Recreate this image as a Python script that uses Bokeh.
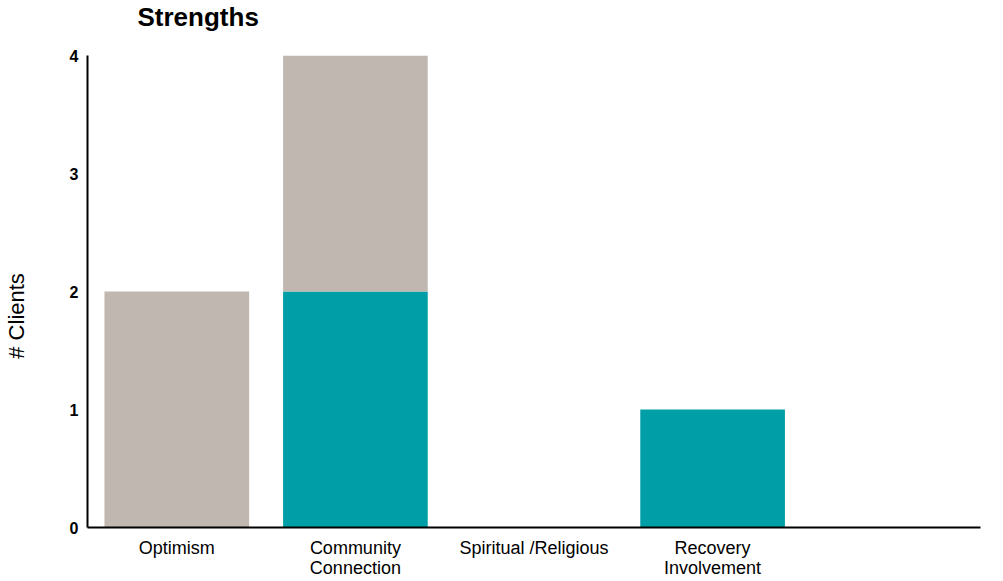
from bokeh.plotting import figure
from bokeh.models import FixedTicker, Range1d, ColumnDataSource, Title
from bokeh.embed import file_html
from bokeh.resources import INLINE

title_text = "Strengths"
categories = ["Optimism", "Community\nConnection", "Spiritual /Religious", "Recovery\nInvolvement", ""]
teal_values = [0, 2, 0, 1, 0]
gray_values = [2, 2, 0, 0, 0]
y_ticks = [0, 1, 2, 3, 4]

xs = list(range(1, len(categories) + 1))
src = ColumnDataSource(dict(x=xs, teal=teal_values, gray=gray_values))

p = figure(width=995, height=580, output_backend="svg", toolbar_location=None,
           x_range=Range1d(0.5, len(categories) + 0.5), y_range=Range1d(0, 4),
           min_border_left=87, min_border_right=15, min_border_top=55, min_border_bottom=53)

p.vbar_stack(["teal", "gray"], x="x", width=0.81, source=src,
             color=["#009FA7", "#BFB7B0"], line_color=None)

# spacer panel between the title and the frame
p.add_layout(Title(text="\u00a0", text_font_size="18px", standoff=0), "above")

p.title.text = title_text
p.title.text_font = "Liberation Sans"
p.title.text_font_size = "26px"
p.title.text_font_style = "bold"
p.title.text_color = "black"
p.title.align = "left"
p.title.offset = 50
p.title.vertical_align = "top"
p.title.standoff = 0

p.xgrid.visible = False
p.ygrid.visible = False
p.outline_line_color = None

p.xaxis.ticker = FixedTicker(ticks=xs)
p.xaxis.major_label_overrides = {x: c for x, c in zip(xs, categories)}
p.xaxis.major_tick_line_color = None
p.xaxis.minor_tick_line_color = None
p.xaxis.axis_line_width = 2
p.xaxis.axis_line_color = "black"
p.xaxis.major_label_text_font = "Liberation Sans"
p.xaxis.major_label_text_font_size = "18px"
p.xaxis.major_label_text_color = "black"
p.xaxis.major_label_standoff = 4
p.xaxis.major_label_text_line_height = 1.0

p.yaxis.ticker = FixedTicker(ticks=y_ticks)
p.yaxis.major_tick_line_color = None
p.yaxis.minor_tick_line_color = None
p.yaxis.axis_line_width = 2
p.yaxis.axis_line_color = "black"
p.yaxis.major_label_text_font = "Liberation Sans"
p.yaxis.major_label_text_font_size = "16px"
p.yaxis.major_label_text_font_style = "bold"
p.yaxis.major_label_text_color = "black"
p.yaxis.major_label_standoff = 3
p.yaxis.axis_label = "# Clients" + "\u00a0" * 8
p.yaxis.axis_label_text_font = "Liberation Sans"
p.yaxis.axis_label_text_font_size = "22px"
p.yaxis.axis_label_text_font_style = "normal"
p.yaxis.axis_label_text_color = "black"
p.yaxis.axis_label_standoff = 38

open("out.html", "w").write(file_html(p, INLINE))
